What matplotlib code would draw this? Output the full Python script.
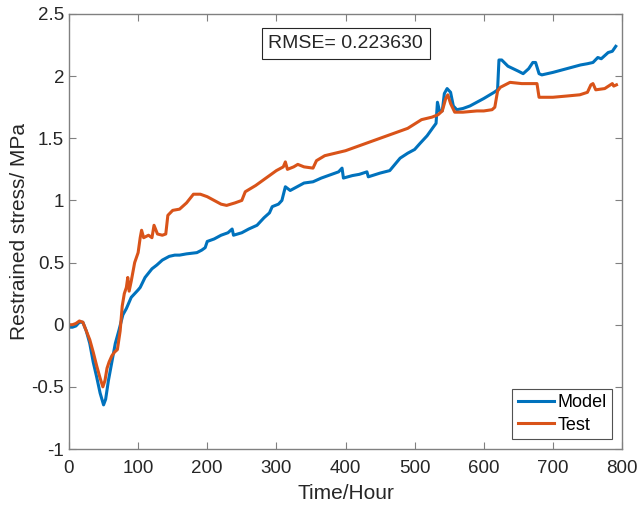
import matplotlib
matplotlib.use("Agg")
import matplotlib.pyplot as plt
from matplotlib.patches import Rectangle

plt.rcParams['font.family'] = ['Liberation Sans', 'DejaVu Sans']

model_x = [0, 5, 10, 15, 20, 25, 30, 35, 40, 45, 50, 53, 57, 62, 67, 72, 78, 83, 90, 100,
           103, 110, 120, 127, 135, 145, 153, 160, 170, 185, 192, 197, 200, 210, 220, 230, 236,
           238, 250, 260, 272, 282, 290, 294, 303, 308, 313, 320, 330, 340, 353, 365, 380,
           390, 395, 397, 410, 420, 431, 433, 450, 464, 479, 490, 500, 508, 518, 527, 531,
           533, 536, 540, 543, 547, 552, 556, 561, 570, 580, 600, 615, 620, 622, 626, 635,
           650, 657, 665, 671, 675, 680, 684, 700, 720, 740, 750, 758, 765, 770, 780, 786, 791]
model_y = [-0.02, -0.02, -0.01, 0.02, 0.02, -0.05, -0.15, -0.3, -0.42, -0.55, -0.645, -0.6,
           -0.45, -0.3, -0.15, -0.05, 0.08, 0.13, 0.22, 0.28, 0.3, 0.38, 0.45, 0.48, 0.52,
           0.55, 0.56, 0.56, 0.57, 0.58, 0.6, 0.62, 0.67, 0.69, 0.72, 0.74, 0.77, 0.72, 0.74,
           0.77, 0.8, 0.86, 0.9, 0.95, 0.97, 1.0, 1.11, 1.08, 1.11, 1.14, 1.15, 1.18, 1.21,
           1.23, 1.26, 1.18, 1.2, 1.21, 1.23, 1.19, 1.22, 1.24, 1.34, 1.38, 1.41, 1.46, 1.52,
           1.59, 1.62, 1.79, 1.72, 1.72, 1.86, 1.9, 1.87, 1.76, 1.73, 1.74, 1.76, 1.82, 1.87,
           1.89, 2.13, 2.13, 2.08, 2.04, 2.02, 2.06, 2.11, 2.11, 2.02, 2.01, 2.03, 2.06, 2.09,
           2.1, 2.11, 2.15, 2.14, 2.19, 2.2, 2.24]

test_x = [0, 5, 10, 15, 20, 25, 30, 35, 40, 45, 49, 52, 55, 58, 62, 66, 70, 74, 77, 80, 83,
          85, 87, 90, 95, 100, 103, 105, 108, 115, 120, 123, 128, 135, 140, 143, 150, 160, 170,
          180, 190, 200, 210, 220, 228, 240, 250, 255, 270, 290, 300, 310, 313, 316, 325, 331,
          340, 353, 358, 370, 385, 400, 420, 445, 470, 490, 510, 525, 534, 540, 545, 548, 552,
          558, 570, 590, 600, 612, 616, 620, 624, 638, 655, 677, 680, 700, 720, 739, 750, 755,
          758, 762, 775, 786, 788, 792]
test_y = [0.0, 0.0, 0.01, 0.03, 0.02, -0.05, -0.12, -0.22, -0.33, -0.43, -0.5, -0.45, -0.35,
          -0.3, -0.25, -0.22, -0.2, -0.05, 0.15, 0.25, 0.3, 0.38, 0.27, 0.35, 0.5, 0.58, 0.7,
          0.76, 0.7, 0.72, 0.7, 0.8, 0.73, 0.72, 0.73, 0.88, 0.92, 0.93, 0.98, 1.05, 1.05, 1.03,
          1.0, 0.97, 0.96, 0.98, 1.0, 1.07, 1.12, 1.2, 1.24, 1.27, 1.31, 1.25, 1.27, 1.29, 1.27,
          1.26, 1.32, 1.36, 1.38, 1.4, 1.44, 1.49, 1.54, 1.58, 1.65, 1.67, 1.69, 1.72, 1.82,
          1.85, 1.78, 1.71, 1.71, 1.72, 1.72, 1.73, 1.75, 1.88, 1.91, 1.95, 1.94, 1.94, 1.83,
          1.83, 1.84, 1.85, 1.87, 1.93, 1.94, 1.89, 1.9, 1.94, 1.92, 1.93]

x_ticks = [0, 100, 200, 300, 400, 500, 600, 700, 800]
y_ticks = [-1, -0.5, 0, 0.5, 1, 1.5, 2, 2.5]
y_tick_labels = ['-1', '-0.5', '0', '0.5', '1', '1.5', '2', '2.5']

fig = plt.figure(figsize=(6.4, 5.07), dpi=100)
ax = fig.add_axes([69/640, 58/507, 553/640, 435/507])

ax.plot(model_x, model_y, color='#0072BD', lw=2.2, label='Model')
ax.plot(test_x, test_y, color='#D95319', lw=2.2, label='Test')

ax.set_xlim(0, 800)
ax.set_ylim(-1, 2.5)
ax.set_xticks(x_ticks)
ax.set_yticks(y_ticks)
ax.set_yticklabels(y_tick_labels)
ax.tick_params(direction='in', top=True, right=True, labelsize=13.5, labelcolor='#262626',
               color='#808080', length=5, width=0.8)
ax.tick_params(axis='x', pad=8)
ax.tick_params(axis='y', pad=3.5)
for s in ax.spines.values():
    s.set_color('#808080')
    s.set_linewidth(1.0)

ax.set_xlabel('Time/Hour', fontsize=15, color='#262626', labelpad=5)
ax.set_ylabel('Restrained stress/ MPa', fontsize=15, color='#262626', labelpad=2)

# RMSE annotation box
bx0, by0 = (262 - 69) / 553, (449 - 59) / 435
bw, bh = (430 - 262) / 553, (59 - 28) / 435
ax.add_patch(Rectangle((bx0, by0), bw, bh, transform=ax.transAxes, fc='white',
                       ec='#262626', lw=0.8, zorder=5))
ax.text((268 - 69) / 553, by0 + bh / 2, 'RMSE= 0.223630', transform=ax.transAxes,
        fontsize=14, ha='left', va='center', color='#262626', zorder=6)

leg = ax.legend(loc='lower right', fontsize=13, frameon=True, fancybox=False,
                edgecolor='#262626', handlelength=2.0, borderaxespad=0.55,
                borderpad=0.3, labelspacing=0.3, handletextpad=0.2)
leg.get_frame().set_linewidth(0.8)

fig.savefig('out.png', dpi=100)
